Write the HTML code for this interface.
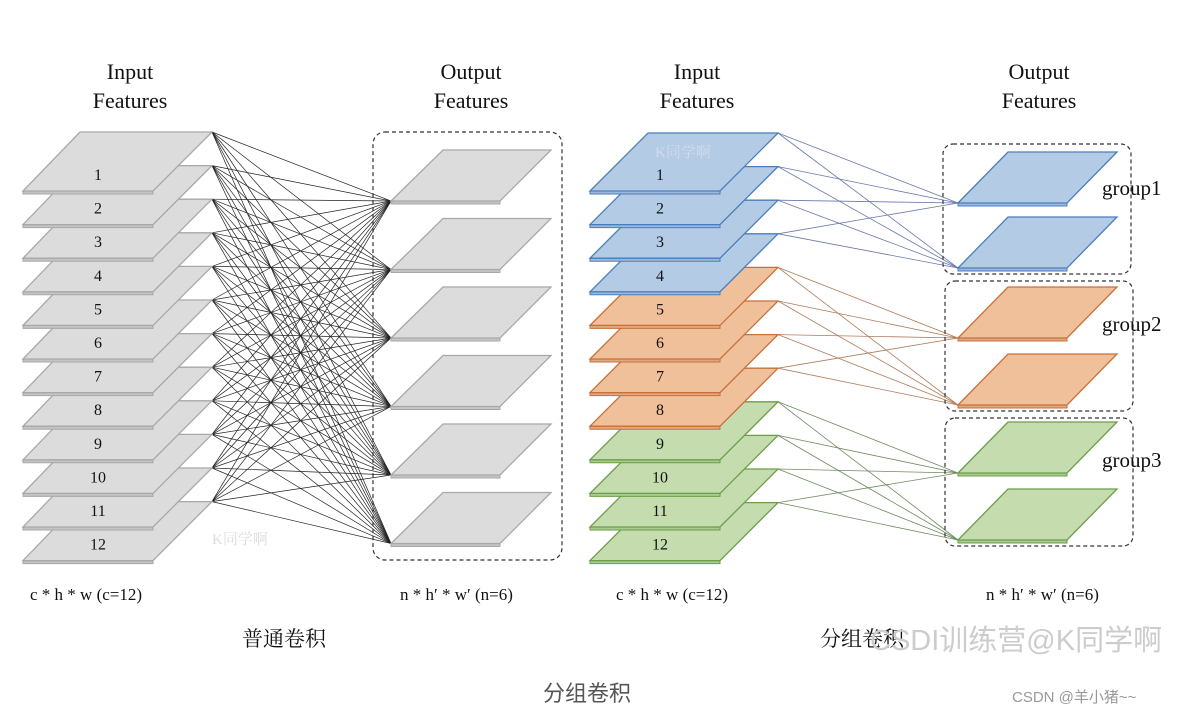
<!DOCTYPE html>
<html><head><meta charset="utf-8"><style>
html,body{margin:0;padding:0;background:#fff;}
svg{display:block;}
text{font-family:"Liberation Serif","Noto Serif CJK SC",serif;}
</style></head><body>
<svg id="s" width="1197" height="717" viewBox="0 0 1197 717" xmlns="http://www.w3.org/2000/svg">
<g id="lines"></g>
<g id="slabs"></g>
<rect x="373" y="132" width="189" height="428" rx="12" fill="none" stroke="#333" stroke-width="1.2" stroke-dasharray="4,3"/>
<rect x="943" y="144" width="188" height="130" rx="10" fill="none" stroke="#333" stroke-width="1.2" stroke-dasharray="4,3"/>
<rect x="945" y="281" width="188" height="130" rx="10" fill="none" stroke="#333" stroke-width="1.2" stroke-dasharray="4,3"/>
<rect x="945" y="418" width="188" height="128" rx="10" fill="none" stroke="#333" stroke-width="1.2" stroke-dasharray="4,3"/>
<g id="nums" font-size="16" text-anchor="middle" fill="#111"></g>
<g font-size="22" text-anchor="middle" fill="#111">
<text x="130" y="79">Input</text><text x="130" y="108">Features</text>
<text x="471" y="79">Output</text><text x="471" y="108">Features</text>
<text x="697" y="79">Input</text><text x="697" y="108">Features</text>
<text x="1039" y="79">Output</text><text x="1039" y="108">Features</text>
</g>
<g font-size="21" fill="#111">
<text x="1102" y="195">group1</text>
<text x="1102" y="331">group2</text>
<text x="1102" y="467">group3</text>
</g>
<g font-size="17" fill="#111">
<text x="30" y="600">c * h * w (c=12)</text>
<text x="400" y="600">n * h′ * w′ (n=6)</text>
<text x="616" y="600">c * h * w (c=12)</text>
<text x="986" y="600">n * h′ * w′ (n=6)</text>
</g>
<text x="242" y="646" font-size="21" fill="#111">普通卷积</text>
<text x="820" y="646" font-size="21" fill="#111">分组卷积</text>
<text x="870" y="650" font-size="29" fill="#ccc" style="font-family:'Liberation Sans','Noto Sans CJK SC',sans-serif">CSDI训练营@K同学啊</text>
<text x="543" y="701" font-size="22" fill="#555" style="font-family:'Liberation Sans','Noto Sans CJK SC',sans-serif">分组卷积</text>
<text x="1012" y="702" font-size="15" fill="#999" style="font-family:'Liberation Sans','Noto Sans CJK SC',sans-serif">CSDN @羊小猪~~</text>
<text x="212" y="544" font-size="15" fill="#ddd">K同学啊</text>
</svg>
<script>
var NS="http://www.w3.org/2000/svg";
var L=document.getElementById('lines'),S=document.getElementById('slabs'),N=document.getElementById('nums');
function el(p,t,a){var e=document.createElementNS(NS,t);for(var k in a)e.setAttribute(k,a[k]);p.appendChild(e);return e;}
function slab(bl,br,tl,tr,yt,yb,fill,stroke,edge){
 el(S,'polygon',{points:bl+','+yb+' '+br+','+yb+' '+br+','+(yb+3)+' '+bl+','+(yb+3),fill:edge,stroke:stroke,'stroke-width':1});
 el(S,'polygon',{points:tl+','+yt+' '+tr+','+yt+' '+br+','+yb+' '+bl+','+yb,fill:fill,stroke:stroke,'stroke-width':1.3});
}
var sp=33.6;
var outB=[];for(var j=0;j<6;j++)outB.push(201+j*68.5);
for(var i=0;i<12;i++){var y=132+i*sp;for(var j=0;j<6;j++)el(L,'line',{x1:212,y1:y,x2:391,y2:outB[j],stroke:'#222','stroke-width':0.7});}
var gB=[[203,268],[338,405],[473,540]];var lc=['#6a78a8','#b07a5a','#6e8a60'];
for(var i=0;i<12;i++){var g=Math.floor(i/4),y=133+i*sp;for(var j=0;j<2;j++)el(L,'line',{x1:778,y1:y,x2:958,y2:gB[g][j],stroke:lc[g],'stroke-width':0.8});}
for(var i=11;i>=0;i--){var yt=132+i*sp;slab(23,153,80,212,yt,yt+59,'#dcdcdc','#a8a8a8','#c4c4c4');}
var F=['#b4cbe6','#f0c09b','#c4dcae'],K=['#4a7ebb','#c8703a','#6a9e4a'],E=['#9db8dc','#e0a880','#aaca90'];
for(var i=11;i>=0;i--){var g=Math.floor(i/4),yt=133+i*sp;slab(590,720,648,778,yt,yt+58,F[g],K[g],E[g]);}
for(var j=0;j<6;j++){var yb=outB[j];slab(391,500,443,551,yb-51,yb,'#dcdcdc','#a8a8a8','#c4c4c4');}
for(var g=0;g<3;g++)for(var j=0;j<2;j++){var yb=gB[g][j];slab(958,1067,1008,1117,yb-51,yb,F[g],K[g],E[g]);}
for(var i=0;i<12;i++){var y=180+i*sp;el(N,'text',{x:98,y:y}).textContent=i+1;el(N,'text',{x:660,y:y}).textContent=i+1;}
var w=el(S,'text',{x:655,y:157,'font-size':15,fill:'#d0dced'});w.textContent='K同学啊';
</script>
</body></html>
